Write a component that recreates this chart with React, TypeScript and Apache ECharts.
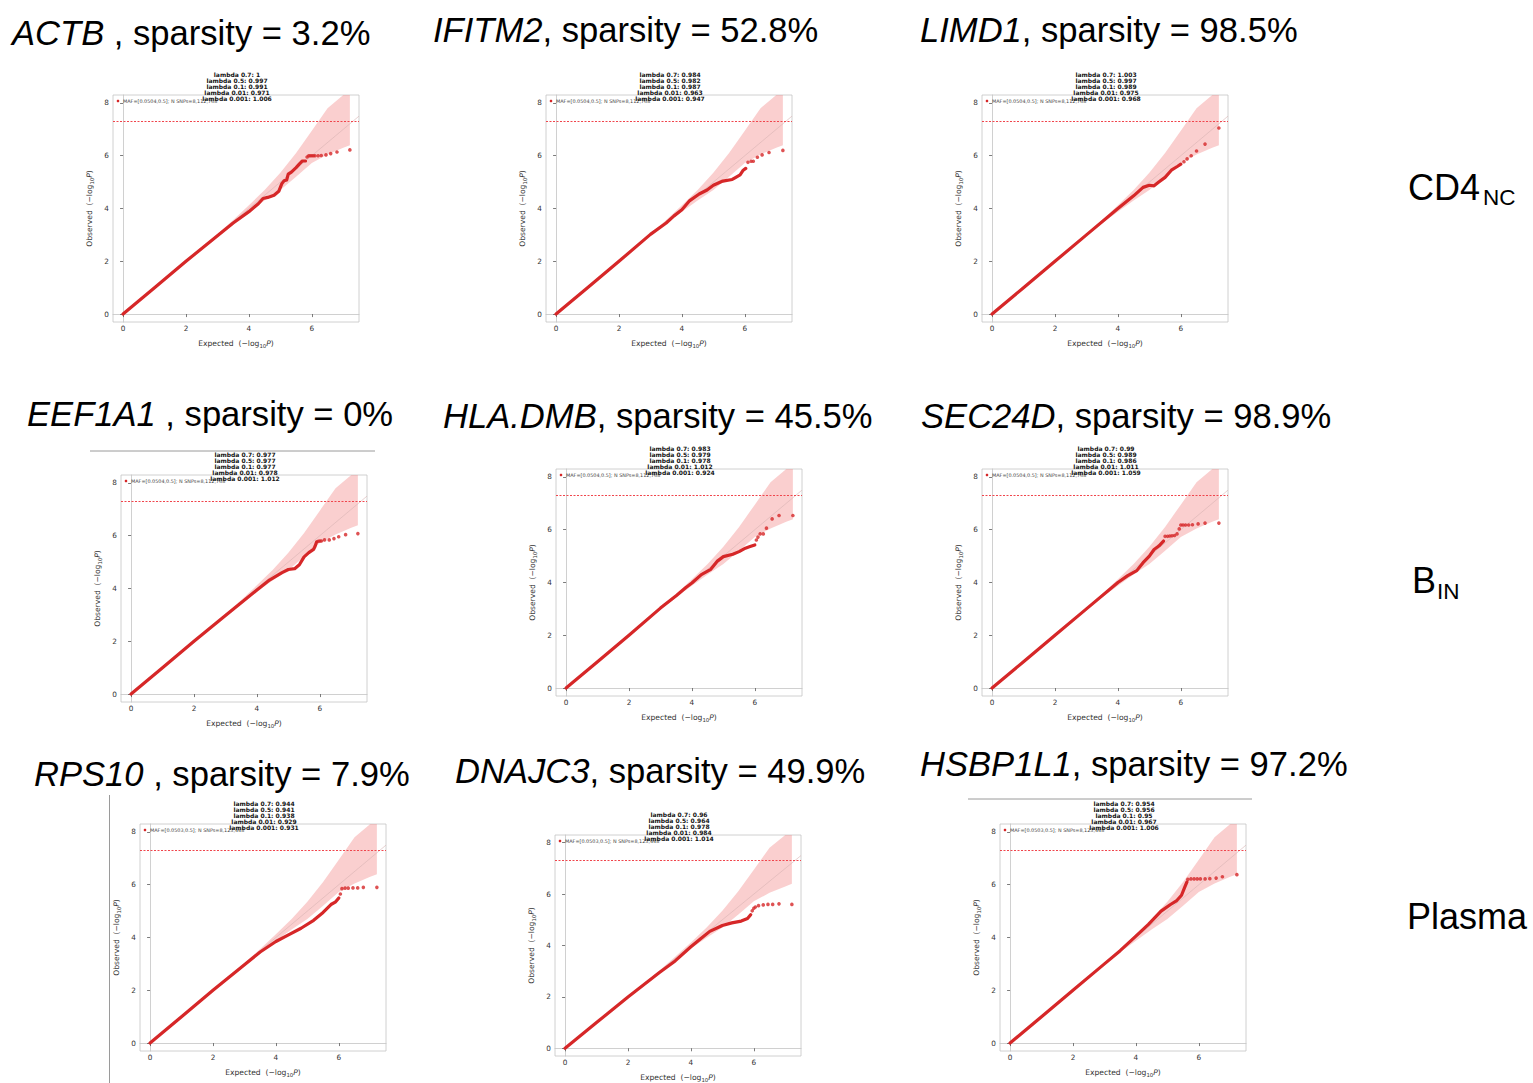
import React, { useEffect, useRef } from "react";
import * as echarts from "echarts";

// ---------- data ----------
const genes = ["ACTB", "IFITM2", "LIMD1", "EEF1A1", "HLA.DMB", "SEC24D", "RPS10", "DNAJC3", "HSBP1L1"];
const titleSeps = [" , ", ", ", ", ", " , ", ", ", ", ", " , ", ", ", ", "];
const sparsity = ["3.2%", "52.8%", "98.5%", "0%", "45.5%", "98.9%", "7.9%", "49.9%", "97.2%"];
const lambdaKeys = ["0.7", "0.5", "0.1", "0.01", "0.001"];
const lambdaValues = [
  ["1", "0.997", "0.991", "0.971", "1.006"],
  ["0.984", "0.982", "0.987", "0.963", "0.947"],
  ["1.003", "0.997", "0.989", "0.975", "0.968"],
  ["0.977", "0.977", "0.977", "0.978", "1.012"],
  ["0.983", "0.979", "0.978", "1.012", "0.924"],
  ["0.99", "0.989", "0.986", "1.011", "1.059"],
  ["0.944", "0.941", "0.938", "0.929", "0.931"],
  ["0.96", "0.964", "0.978", "0.984", "1.014"],
  ["0.954", "0.956", "0.95", "0.967", "1.006"],
];
const mafLabels = [
  "MAF=[0.0504,0.5]; N SNPs=8,112,768",
  "MAF=[0.0504,0.5]; N SNPs=8,112,768",
  "MAF=[0.0504,0.5]; N SNPs=8,112,768",
  "MAF=[0.0504,0.5]; N SNPs=8,112,768",
  "MAF=[0.0504,0.5]; N SNPs=8,112,768",
  "MAF=[0.0504,0.5]; N SNPs=8,112,768",
  "MAF=[0.0503,0.5]; N SNPs=8,123,448",
  "MAF=[0.0503,0.5]; N SNPs=8,123,448",
  "MAF=[0.0503,0.5]; N SNPs=8,123,448",
];
const xTicks = [0, 2, 4, 6];
const yTicks = [0, 2, 4, 6, 8];
const gwSignificance = 7.3;
const diagonal = [[0, 0], [7.5, 7.5]];
const bandX = [2.5, 3.0, 3.5, 4.0, 4.5, 5.0, 5.5, 6.0, 6.5, 7.0, 7.21];
const bandUpper = [2.5, 3.03, 3.56, 4.12, 4.7, 5.35, 6.1, 6.95, 7.8, 8.75, 9.2];
const bandLower = [2.5, 2.97, 3.44, 3.88, 4.3, 4.7, 5.2, 5.72, 6.05, 6.3, 6.4];

const curves = [
  [[0, 0], [1, 1], [2, 2], [3, 2.97], [3.5, 3.45], [4, 3.88], [4.3, 4.18], [4.45, 4.38], [4.6, 4.42], [4.8, 4.5], [4.95, 4.65], [5.05, 4.95], [5.12, 5.05], [5.2, 5.08], [5.25, 5.3], [5.35, 5.38], [5.5, 5.55], [5.6, 5.68], [5.7, 5.8], [5.8, 5.8]],
  [[0, 0], [1, 1], [2, 2], [3, 3.02], [3.5, 3.45], [3.75, 3.72], [4, 3.95], [4.25, 4.3], [4.55, 4.55], [4.8, 4.7], [5.0, 4.88], [5.3, 5.04], [5.6, 5.1], [5.7, 5.17], [5.85, 5.27], [5.95, 5.45], [6.03, 5.52]],
  [[0, 0], [1, 1], [2, 2], [3, 3], [4, 4.0], [4.5, 4.48], [4.8, 4.8], [5.0, 4.88], [5.15, 4.86], [5.3, 5.0], [5.5, 5.18], [5.7, 5.45], [5.9, 5.6], [6.0, 5.68]],
  [[0, 0], [1, 1], [2, 2], [3, 2.98], [4, 3.94], [4.4, 4.32], [4.8, 4.6], [5.0, 4.72], [5.2, 4.75], [5.35, 4.9], [5.5, 5.2], [5.65, 5.36], [5.8, 5.48], [5.85, 5.6], [5.9, 5.77]],
  [[0, 0], [1, 1], [2, 2], [3, 3.03], [3.5, 3.5], [3.8, 3.8], [4.0, 3.98], [4.3, 4.3], [4.6, 4.5], [4.8, 4.8], [5.0, 4.98], [5.3, 5.07], [5.5, 5.17], [5.7, 5.3], [5.85, 5.36], [6.0, 5.42]],
  [[0, 0], [1, 1], [2, 2], [3, 3], [4, 4.0], [4.3, 4.25], [4.6, 4.45], [4.8, 4.75], [5.0, 5.0], [5.15, 5.25], [5.3, 5.38], [5.45, 5.57]],
  [[0, 0], [1, 1], [2, 2], [3, 2.97], [3.5, 3.45], [4, 3.85], [4.4, 4.1], [4.8, 4.35], [5.2, 4.65], [5.5, 4.95], [5.75, 5.25], [5.9, 5.35], [6.0, 5.5]],
  [[0, 0], [1, 1], [2, 2], [3, 2.95], [3.5, 3.4], [4, 3.95], [4.3, 4.25], [4.6, 4.55], [5.0, 4.78], [5.3, 4.88], [5.6, 4.95], [5.8, 5.05], [5.9, 5.2]],
  [[0, 0], [1, 1], [2, 2], [3, 3], [3.5, 3.5], [4, 4.05], [4.4, 4.5], [4.8, 5.0], [5.1, 5.25], [5.3, 5.4], [5.45, 5.6], [5.55, 5.9], [5.62, 6.1]],
];
const tails = [
  [[5.85, 5.95], [5.9, 6.0], [5.95, 6.0], [6.0, 6.0], [6.05, 6.0], [6.1, 6.0], [6.2, 6.0], [6.3, 6.01], [6.45, 6.03], [6.6, 6.08], [6.8, 6.14], [7.21, 6.22]],
  [[6.1, 5.75], [6.2, 5.79], [6.27, 5.79], [6.4, 5.94], [6.55, 6.03], [6.77, 6.12], [7.21, 6.2]],
  [[6.1, 5.77], [6.2, 5.88], [6.33, 6.0], [6.5, 6.18], [6.77, 6.44], [7.21, 7.05]],
  [[5.95, 5.79], [6.0, 5.8], [6.05, 5.8], [6.15, 5.84], [6.3, 5.84], [6.45, 5.89], [6.6, 5.96], [6.82, 6.04], [7.21, 6.08]],
  [[6.05, 5.61], [6.1, 5.72], [6.17, 5.84], [6.27, 5.84], [6.37, 6.06], [6.55, 6.41], [6.77, 6.54], [7.21, 6.54]],
  [[5.5, 5.75], [5.58, 5.75], [5.65, 5.76], [5.72, 5.77], [5.8, 5.78], [5.88, 5.84], [5.95, 6.03], [6.0, 6.18], [6.07, 6.18], [6.15, 6.18], [6.25, 6.18], [6.37, 6.19], [6.55, 6.22], [6.77, 6.25], [7.21, 6.25]],
  [[6.05, 5.65], [6.1, 5.85], [6.2, 5.87], [6.3, 5.87], [6.45, 5.88], [6.6, 5.88], [6.78, 5.9], [7.21, 5.9]],
  [[5.95, 5.35], [6.0, 5.45], [6.05, 5.5], [6.15, 5.55], [6.3, 5.58], [6.45, 5.6], [6.6, 5.6], [6.8, 5.62], [7.21, 5.6]],
  [[5.65, 6.2], [5.75, 6.22], [5.85, 6.22], [5.95, 6.22], [6.05, 6.22], [6.2, 6.22], [6.35, 6.23], [6.55, 6.25], [6.75, 6.3], [7.21, 6.38]],
];

// ---------- layout ----------
const W = 1533;
const H = 1083;
const gridLefts = [113, 546, 982, 121, 556, 982, 140, 555, 1000];
const gridTops = [95, 95, 95, 475, 469, 469, 824, 835, 824];
const GW = 246;
const GH = 227;
const titlePos = [
  [12, 33], [433, 30], [920, 30],
  [27, 414], [443, 416], [921, 416],
  [34, 774], [455, 771], [920, 764],
];
const RED = "#d62728";
const SANS = "'Liberation Sans', Arial, sans-serif";
const DJ = "'DejaVu Sans', sans-serif";
const TITLE_SIZE = 34.6;

function bandRenderItem(params: any, api: any) {
  // one polygon through the upper edge, back along the lower edge
  if (params.dataIndex !== 0) return null;
  const pts: number[][] = [];
  for (let k = 0; k < bandX.length; k++) pts.push(api.coord([bandX[k], bandUpper[k]]));
  for (let k = bandX.length - 1; k >= 0; k--) pts.push(api.coord([bandX[k], bandLower[k]]));
  const cs = params.coordSys;
  const clipped = echarts.graphic.clipPointsByRect(pts, {
    x: cs.x, y: cs.y, width: cs.width, height: cs.height,
  });
  return {
    type: "polygon",
    shape: { points: clipped },
    style: { fill: "rgba(240, 110, 110, 0.33)", stroke: "none" },
  };
}

function buildOption() {
  const grid: any[] = [];
  const xAxis: any[] = [];
  const yAxis: any[] = [];
  const series: any[] = [];
  const graphic: any[] = [];

  const axisNameRich = {
    s: { fontSize: 5.4, fontFamily: DJ, color: "#333", verticalAlign: "bottom", lineHeight: 10 },
    p: { fontSize: 7.6, fontFamily: DJ, color: "#333", fontStyle: "italic", lineHeight: 10 },
  };

  for (let i = 0; i < 9; i++) {
    const left = gridLefts[i];
    const top = gridTops[i];
    grid.push({
      left, top, width: GW, height: GH,
      show: true, borderColor: "#c4c4c4", borderWidth: 0.8, backgroundColor: "#fff",
    });
    xAxis.push({
      type: "value", gridIndex: i, min: -0.32, max: 7.5,
      axisLine: { show: true, lineStyle: { color: "#c4c4c4", width: 0.8 } },
      axisTick: { show: true, customValues: xTicks, length: 3, lineStyle: { color: "#444", width: 0.7 } },
      axisLabel: { customValues: xTicks, fontSize: 7.3, color: "#333", margin: 3, fontFamily: DJ },
      splitLine: { show: false },
      name: "Expected  (−log{s|10}{p|P})",
      nameLocation: "middle", nameGap: 16,
      nameTextStyle: { fontSize: 7.6, color: "#333", fontFamily: DJ, rich: axisNameRich },
    });
    yAxis.push({
      type: "value", gridIndex: i, min: -0.3, max: 8.3,
      axisLine: { show: true, lineStyle: { color: "#c4c4c4", width: 0.8 } },
      axisTick: { show: true, customValues: yTicks, length: 3, lineStyle: { color: "#444", width: 0.7 } },
      axisLabel: { customValues: yTicks, fontSize: 7.3, color: "#333", margin: 4, fontFamily: DJ },
      splitLine: { show: false },
      name: "Observed  (−log{s|10}{p|P})",
      nameLocation: "middle", nameGap: 19, nameRotate: 90,
      nameTextStyle: { fontSize: 7.6, color: "#333", fontFamily: DJ, rich: axisNameRich },
    });

    series.push({
      type: "custom", xAxisIndex: i, yAxisIndex: i, silent: true,
      renderItem: bandRenderItem,
      data: bandX.map((x, k) => [x, bandLower[k], bandUpper[k]]),
      encode: { x: 0, y: [1, 2] },
      z: 1,
    });
    series.push({
      type: "line", xAxisIndex: i, yAxisIndex: i, silent: true, symbol: "none",
      lineStyle: { color: "#d8b4b4", width: 0.6 },
      data: diagonal,
      z: 2,
      markLine: {
        silent: true, symbol: "none", label: { show: false },
        lineStyle: { color: "#f0454c", type: [2, 1.5], width: 1, opacity: 1 },
        data: [{ yAxis: gwSignificance }],
      },
    });
    series.push({
      type: "line", xAxisIndex: i, yAxisIndex: i, silent: true, symbol: "none",
      lineStyle: { color: RED, width: 3.2, join: "round", cap: "round" },
      data: curves[i],
      z: 3,
    });
    series.push({
      type: "scatter", xAxisIndex: i, yAxisIndex: i, silent: true,
      symbol: "circle", symbolSize: 3.6,
      itemStyle: { color: RED },
      data: tails[i],
      z: 3,
    });

    // title
    graphic.push({
      type: "text", x: titlePos[i][0], y: titlePos[i][1],
      style: {
        text: "{g|" + genes[i] + "}" + titleSeps[i] + "sparsity = " + sparsity[i],
        fontSize: TITLE_SIZE, fontFamily: SANS, fill: "#000",
        verticalAlign: "middle", textVerticalAlign: "middle",
        rich: { g: { fontSize: TITLE_SIZE, fontFamily: SANS, fontStyle: "italic", fill: "#000" } },
      },
    });
    // lambda block
    graphic.push({
      type: "text", x: left + GW / 2 + 1, y: top + 6,
      z: 100,
      style: {
        text: lambdaKeys.map((k, j) => "lambda " + k + ": " + lambdaValues[i][j]).join("\n"),
        fontSize: 6, fontWeight: "bold", fontFamily: DJ, fill: "#111",
        lineHeight: 5.9,
        align: "center", textAlign: "center",
        verticalAlign: "bottom", textVerticalAlign: "bottom",
      },
    });
    // legend
    graphic.push({
      type: "circle", z: 99, shape: { cx: left + 5, cy: top + 6, r: 1.3 },
      style: { fill: RED },
    });
    graphic.push({
      type: "text", x: left + 10, y: top + 6, z: 99,
      style: {
        text: mafLabels[i], fontSize: 4.9, fontFamily: DJ, fill: "#444",
        verticalAlign: "middle", textVerticalAlign: "middle",
      },
    });
  }

  // row labels
  const rowMain = [["CD4", 1408, 187], ["B", 1412, 580]];
  const rowSub = [["NC", 1483, 197], ["IN", 1437, 591]];
  rowMain.forEach((r) => {
    graphic.push({
      type: "text", x: r[1], y: r[2],
      style: { text: r[0], fontSize: 36, fontFamily: SANS, fill: "#000", verticalAlign: "middle", textVerticalAlign: "middle" },
    });
  });
  rowSub.forEach((r) => {
    graphic.push({
      type: "text", x: r[1], y: r[2],
      style: { text: r[0], fontSize: 22.5, fontFamily: SANS, fill: "#000", verticalAlign: "middle", textVerticalAlign: "middle" },
    });
  });
  graphic.push({
    type: "text", x: 1407, y: 916,
    style: { text: "Plasma", fontSize: 36, fontFamily: SANS, fill: "#000", verticalAlign: "middle", textVerticalAlign: "middle" },
  });

  // crop edge lines from the composed figure
  const edgeStyle = { stroke: "#9a9a9a", lineWidth: 1 };
  graphic.push({ type: "line", shape: { x1: 90, y1: 451, x2: 375, y2: 451 }, style: edgeStyle });
  graphic.push({ type: "line", shape: { x1: 109.5, y1: 795, x2: 109.5, y2: 1083 }, style: edgeStyle });
  graphic.push({ type: "line", shape: { x1: 968, y1: 799, x2: 1252, y2: 799 }, style: edgeStyle });

  return {
    animation: false,
    backgroundColor: "#fff",
    grid, xAxis, yAxis, series, graphic,
  };
}

export default function App() {
  const ref = useRef<HTMLDivElement>(null);
  useEffect(() => {
    if (!ref.current) return;
    const chart = echarts.init(ref.current, null, { renderer: "svg" });
    chart.setOption(buildOption() as any);
    return () => chart.dispose();
  }, []);
  return (
    <div
      ref={ref}
      style={{ position: "fixed", left: 0, top: 0, width: W, height: H, background: "#fff" }}
    />
  );
}
